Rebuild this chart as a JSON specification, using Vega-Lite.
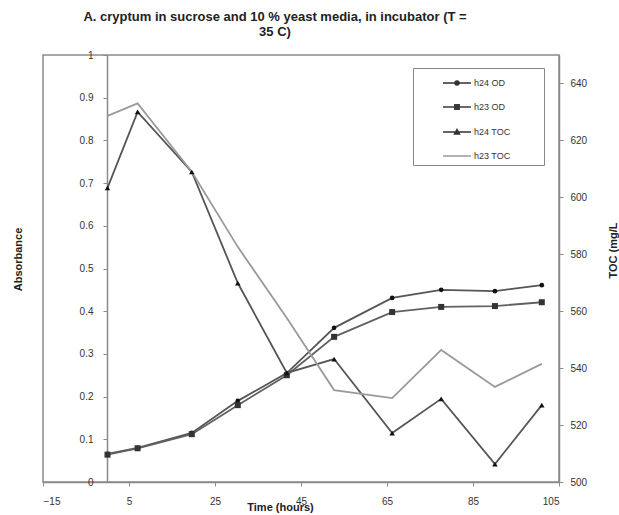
{
  "$schema": "https://vega.github.io/schema/vega-lite/v6.json",
  "width": 516,
  "height": 427,
  "autosize": "none",
  "padding": {"left": 43, "top": 55, "right": 60, "bottom": 33},
  "background": "white",
  "config": {
    "font": "Liberation Sans",
    "view": {"stroke": "#8a8a8a", "strokeWidth": 1.5},
    "axis": {
      "grid": false,
      "domainColor": "#8a8a8a",
      "domainWidth": 1.5,
      "tickColor": "#8a8a8a",
      "tickSize": 4,
      "labelFont": "Liberation Sans",
      "labelFontSize": 10,
      "labelColor": "#333333",
      "titleFont": "Liberation Sans",
      "titleFontSize": 11,
      "titleFontWeight": "bold",
      "titleColor": "#222222"
    }
  },
  "title": {
    "text": ["A. cryptum in sucrose and 10 % yeast media, in incubator (T =", "35 C)"],
    "font": "Liberation Sans",
    "fontSize": 13,
    "fontWeight": "bold",
    "color": "#222222",
    "lineHeight": 15,
    "anchor": "middle",
    "dx": -26,
    "offset": 11
  },
  "data": {
    "values": [
      {"t": 0, "series": "h24 OD", "value": 0.066},
      {"t": 7, "series": "h24 OD", "value": 0.08},
      {"t": 19.6, "series": "h24 OD", "value": 0.115},
      {"t": 30.3, "series": "h24 OD", "value": 0.19},
      {"t": 41.7, "series": "h24 OD", "value": 0.255},
      {"t": 52.7, "series": "h24 OD", "value": 0.361},
      {"t": 66.2, "series": "h24 OD", "value": 0.431},
      {"t": 77.6, "series": "h24 OD", "value": 0.45},
      {"t": 90.1, "series": "h24 OD", "value": 0.447},
      {"t": 101, "series": "h24 OD", "value": 0.461},
      {"t": 0, "series": "h23 OD", "value": 0.064},
      {"t": 7, "series": "h23 OD", "value": 0.079},
      {"t": 19.6, "series": "h23 OD", "value": 0.112},
      {"t": 30.3, "series": "h23 OD", "value": 0.18},
      {"t": 41.7, "series": "h23 OD", "value": 0.25},
      {"t": 52.7, "series": "h23 OD", "value": 0.34},
      {"t": 66.2, "series": "h23 OD", "value": 0.398},
      {"t": 77.6, "series": "h23 OD", "value": 0.41},
      {"t": 90.1, "series": "h23 OD", "value": 0.412},
      {"t": 101, "series": "h23 OD", "value": 0.421},
      {"t": 0, "series": "h24 TOC", "value": 603.3},
      {"t": 7, "series": "h24 TOC", "value": 630},
      {"t": 19.6, "series": "h24 TOC", "value": 608.9},
      {"t": 30.3, "series": "h24 TOC", "value": 569.9},
      {"t": 41.7, "series": "h24 TOC", "value": 538.3},
      {"t": 52.7, "series": "h24 TOC", "value": 543.2},
      {"t": 66.2, "series": "h24 TOC", "value": 517.2},
      {"t": 77.6, "series": "h24 TOC", "value": 529.2},
      {"t": 90.1, "series": "h24 TOC", "value": 506.3},
      {"t": 101, "series": "h24 TOC", "value": 527},
      {"t": 0, "series": "h23 TOC", "value": 628.6},
      {"t": 7, "series": "h23 TOC", "value": 633},
      {"t": 19.6, "series": "h23 TOC", "value": 609},
      {"t": 30.3, "series": "h23 TOC", "value": 582.6},
      {"t": 41.7, "series": "h23 TOC", "value": 557.6},
      {"t": 52.7, "series": "h23 TOC", "value": 532.3},
      {"t": 66.2, "series": "h23 TOC", "value": 529.5},
      {"t": 77.6, "series": "h23 TOC", "value": 546.4},
      {"t": 90.1, "series": "h23 TOC", "value": 533.4},
      {"t": 101, "series": "h23 TOC", "value": 541.5}
    ]
  },
  "encoding": {
    "x": {
      "field": "t",
      "type": "quantitative",
      "scale": {"domain": [-15, 105], "nice": false, "zero": false},
      "axis": {
        "values": [-15, 5, 25, 45, 65, 85, 105],
        "title": "Time (hours)",
        "labelPadding": 10,
        "titleX": 237,
        "titleY": 19,
        "titleBaseline": "top",
        "titleAlign": "center"
      }
    }
  },
  "layer": [
    {
      "transform": [{"filter": "indexof(datum.series, 'OD') >= 0"}],
      "encoding": {
        "y": {
          "field": "value",
          "type": "quantitative",
          "scale": {"domain": [0, 1], "nice": false},
          "axis": {
            "orient": "left",
            "offset": -64,
            "values": [0, 0.1, 0.2, 0.3, 0.4, 0.5, 0.6, 0.7, 0.8, 0.9, 1],
            "format": "~g",
            "labelPadding": 10,
            "title": "Absorbance",
            "titleAngle": 270,
            "titleBaseline": "middle",
            "titleAlign": "center",
            "titleX": -89,
            "titleY": 204
          }
        }
      },
      "layer": [
        {
          "transform": [{"filter": "datum.series == 'h24 OD'"}],
          "mark": {"type": "line", "strokeWidth": 1.8, "color": "#555555"}
        },
        {
          "transform": [{"filter": "datum.series == 'h23 OD'"}],
          "mark": {"type": "line", "strokeWidth": 1.8, "color": "#616161"}
        },
        {
          "transform": [{"filter": "datum.series == 'h24 OD'"}],
          "mark": {"type": "point", "shape": "circle", "filled": true, "size": 22, "color": "#111111", "opacity": 1}
        },
        {
          "transform": [{"filter": "datum.series == 'h23 OD'"}],
          "mark": {"type": "point", "shape": "square", "filled": true, "size": 36, "color": "#333333", "opacity": 1}
        }
      ]
    },
    {
      "transform": [{"filter": "indexof(datum.series, 'TOC') >= 0"}],
      "encoding": {
        "y": {
          "field": "value",
          "type": "quantitative",
          "scale": {"domain": [500, 650], "nice": false, "zero": false},
          "axis": {
            "orient": "right",
            "values": [500, 520, 540, 560, 580, 600, 620, 640],
            "labelPadding": 7,
            "title": "TOC (mg/L",
            "titleAngle": 270,
            "titleBaseline": "middle",
            "titleAlign": "center",
            "titleX": 54,
            "titleY": 195
          }
        }
      },
      "layer": [
        {
          "transform": [{"filter": "datum.series == 'h24 TOC'"}],
          "mark": {"type": "line", "strokeWidth": 1.8, "color": "#555555"}
        },
        {
          "transform": [{"filter": "datum.series == 'h23 TOC'"}],
          "mark": {"type": "line", "strokeWidth": 1.8, "color": "#9a9a9a"}
        },
        {
          "transform": [{"filter": "datum.series == 'h24 TOC'"}],
          "mark": {"type": "point", "shape": "triangle-up", "filled": true, "size": 30, "color": "#111111", "opacity": 1}
        }
      ]
    },
    {
      "mark": {"type": "point", "filled": false, "opacity": 0, "strokeWidth": 1.5},
      "encoding": {
        "color": {
          "field": "series",
          "type": "nominal",
          "scale": {"domain": ["h24 OD", "h23 OD", "h24 TOC", "h23 TOC"], "range": ["#333333", "#3a3a3a", "#333333", "#999999"]},
          "legend": {
            "title": " ",
            "titleOrient": "right",
            "titlePadding": 30,
            "titleFontSize": 9,
            "orient": "none",
            "legendX": 370,
            "legendY": 13,
            "strokeColor": "#888888",
            "padding": 4,
            "symbolSize": 400,
            "symbolOpacity": 1,
            "symbolStrokeWidth": 1.5,
            "symbolOffset": 29,
            "labelOffset": 6,
            "rowPadding": 8,
            "labelFont": "Liberation Sans",
            "labelFontSize": 9,
            "labelColor": "#333333"
          }
        },
        "shape": {
          "field": "series",
          "type": "nominal",
          "scale": {
            "domain": ["h24 OD", "h23 OD", "h24 TOC", "h23 TOC"],
            "range": [
              "M-1.4,0H1.4M-0.2,0A0.2,0.2 0 1,0 0.2,0A0.2,0.2 0 1,0 -0.2,0ZM-0.08,0A0.08,0.08 0 1,0 0.08,0A0.08,0.08 0 1,0 -0.08,0Z",
              "M-1.4,0H1.4M-0.22,-0.22H0.22V0.22H-0.22ZM-0.1,-0.1H0.1V0.1H-0.1Z",
              "M-1.4,0H1.4M0,-0.25L0.25,0.2H-0.25ZM0,-0.1L0.1,0.08H-0.1Z",
              "M-1.4,0H1.4"
            ]
          }
        }
      }
    }
  ],
  "resolve": {"scale": {"y": "independent"}}
}
